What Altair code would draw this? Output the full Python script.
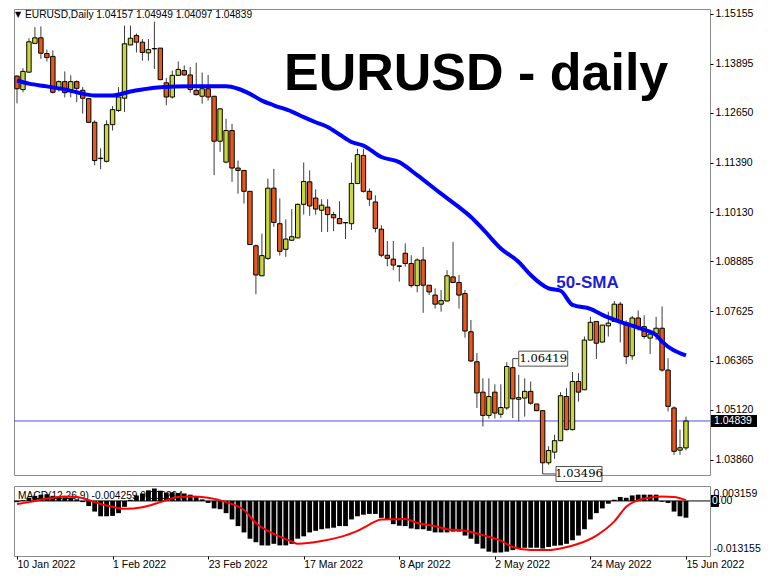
import altair as alt
import pandas as pd

# ---------------- data ----------------
date_ticks = [0, 16, 32, 48, 64, 80, 96, 112]
date_labels = ["10 Jan 2022", "1 Feb 2022", "23 Feb 2022", "17 Mar 2022",
               "8 Apr 2022", "2 May 2022", "24 May 2022", "15 Jun 2022"]
price_ticks = [1.15155, 1.13895, 1.12650, 1.11390, 1.10130, 1.08885,
               1.07625, 1.06365, 1.05120, 1.03860]

opens = [
    1.1358, 1.1324, 1.1368, 1.1441, 1.1455, 1.1415, 1.1408, 1.1327, 1.1344, 1.1324,
    1.1344, 1.1322, 1.1301, 1.1241, 1.1149, 1.1142, 1.1235, 1.1271, 1.1302, 1.1437,
    1.1461, 1.1444, 1.1417, 1.1427, 1.1429, 1.1341, 1.1305, 1.1360, 1.1372, 1.1361,
    1.1322, 1.1307, 1.1326, 1.1307, 1.1193, 1.1140, 1.1220, 1.1125, 1.1119, 1.1066,
    1.0928, 1.0852, 1.0896, 1.1074, 1.0984, 1.0919, 1.0942, 1.0948, 1.1033, 1.1090,
    1.1049, 1.1018, 1.1026, 1.1007, 1.0997, 1.0987, 1.0984, 1.1086, 1.1157, 1.1066,
    1.1039, 1.0970, 1.0904, 1.0894, 1.0877, 1.0909, 1.0883, 1.0827, 1.0892, 1.0828,
    1.0803, 1.0780, 1.0788, 1.0849, 1.0835, 1.0807, 1.0710, 1.0634, 1.0557, 1.0498,
    1.0557, 1.0501, 1.0517, 1.0619, 1.0539, 1.0542, 1.0559, 1.0527, 1.0510, 1.0378,
    1.0405, 1.0434, 1.0546, 1.0462, 1.0584, 1.0563, 1.0689, 1.0736, 1.0684, 1.0725,
    1.0736, 1.0780, 1.0733, 1.0649, 1.0745, 1.0723, 1.0694, 1.0704, 1.0719, 1.0613,
    1.0517, 1.0410, 1.04157]
highs = [
    1.1360, 1.1378, 1.1454, 1.1482, 1.1484, 1.1425, 1.1423, 1.1347, 1.1370, 1.1360,
    1.1347, 1.1330, 1.1301, 1.1246, 1.1175, 1.1246, 1.1282, 1.1330, 1.1486, 1.1486,
    1.1466, 1.1452, 1.1452, 1.1496, 1.1429, 1.1353, 1.1372, 1.1395, 1.1385, 1.1381,
    1.1392, 1.1367, 1.1361, 1.1307, 1.1277, 1.1250, 1.1237, 1.1144, 1.1119, 1.1066,
    1.0931, 1.0959, 1.1098, 1.1123, 1.1048, 1.0995, 1.1021, 1.1035, 1.1139, 1.1119,
    1.1071, 1.1046, 1.1046, 1.1014, 1.1041, 1.0987, 1.1139, 1.1174, 1.1174, 1.1073,
    1.1056, 1.0980, 1.0940, 1.0940, 1.0877, 1.0934, 1.0904, 1.0896, 1.0925, 1.0828,
    1.0820, 1.0816, 1.0866, 1.0938, 1.0854, 1.0816, 1.0740, 1.0656, 1.0592, 1.0592,
    1.0577, 1.0577, 1.0633, 1.06419, 1.0601, 1.0592, 1.0584, 1.0527, 1.0512, 1.0420,
    1.0449, 1.0557, 1.0567, 1.0608, 1.0605, 1.0698, 1.0748, 1.0736, 1.0727, 1.0761,
    1.0788, 1.0786, 1.0739, 1.0750, 1.0764, 1.0752, 1.0712, 1.0748, 1.0774, 1.0643,
    1.0521, 1.0462, 1.04949]
lows = [
    1.1289, 1.1317, 1.1367, 1.1440, 1.1402, 1.1395, 1.1314, 1.1319, 1.1304, 1.1304,
    1.1292, 1.1263, 1.1240, 1.1132, 1.1122, 1.1139, 1.1220, 1.1267, 1.1267, 1.1436,
    1.1418, 1.1397, 1.1397, 1.1376, 1.1348, 1.1284, 1.1301, 1.1358, 1.1359, 1.1316,
    1.1309, 1.1288, 1.1296, 1.1107, 1.1166, 1.1137, 1.1090, 1.1060, 1.1035, 1.0930,
    1.0805, 1.0851, 1.0892, 1.0976, 1.0903, 1.0900, 1.0940, 1.0947, 1.1007, 1.1004,
    1.1007, 1.0963, 1.0963, 1.0965, 1.0983, 1.0945, 1.0968, 1.1084, 1.1063, 1.1029,
    1.0962, 1.0899, 1.0876, 1.0866, 1.0837, 1.0875, 1.0822, 1.0810, 1.0758, 1.0803,
    1.0769, 1.0761, 1.0787, 1.0833, 1.0769, 1.0695, 1.0633, 1.0517, 1.0470, 1.0490,
    1.0490, 1.0492, 1.0512, 1.0491, 1.0483, 1.0495, 1.0525, 1.0509, 1.03496, 1.0373,
    1.0388, 1.0433, 1.0460, 1.0460, 1.0533, 1.0562, 1.0688, 1.0641, 1.0683, 1.0698,
    1.0735, 1.0683, 1.0628, 1.0639, 1.0713, 1.0692, 1.0654, 1.0689, 1.0609, 1.0508,
    1.0398, 1.0398, 1.04097]
closes = [
    1.1326, 1.1370, 1.1445, 1.1455, 1.1416, 1.1405, 1.1317, 1.1344, 1.1316, 1.1344,
    1.1327, 1.1302, 1.1241, 1.1144, 1.1150, 1.1235, 1.1273, 1.1305, 1.1440, 1.1454,
    1.1444, 1.1418, 1.1425, 1.1428, 1.1349, 1.1305, 1.1360, 1.1375, 1.1361, 1.1324,
    1.1311, 1.1326, 1.1305, 1.1193, 1.1275, 1.1220, 1.1125, 1.1119, 1.1066, 1.0931,
    1.0854, 1.0903, 1.1074, 1.0987, 1.0914, 1.0945, 1.0951, 1.1033, 1.1091, 1.1029,
    1.1021, 1.1031, 1.1007, 1.0999, 1.0984, 1.0986, 1.1086, 1.1159, 1.1066, 1.1046,
    1.0972, 1.0904, 1.0896, 1.0879, 1.0876, 1.0883, 1.0827, 1.0892, 1.0828, 1.0811,
    1.0780, 1.0789, 1.0852, 1.0835, 1.0803, 1.0712, 1.0636, 1.0555, 1.0498, 1.0546,
    1.0504, 1.0518, 1.0622, 1.0540, 1.0543, 1.0559, 1.0529, 1.0510, 1.0378, 1.0409,
    1.0434, 1.0548, 1.0462, 1.0584, 1.0557, 1.0689, 1.0734, 1.0681, 1.0727, 1.0732,
    1.0780, 1.0733, 1.0647, 1.0745, 1.0723, 1.0698, 1.0704, 1.0719, 1.0613, 1.0521,
    1.0407, 1.0416, 1.04839]

sma_idx = [0, 2, 5, 8, 10, 13, 16, 19, 21, 24, 29, 35, 37, 39, 41, 43, 46, 48, 50, 52,
           54, 56, 58, 61, 64, 67, 71, 74, 76, 78, 81, 84, 86, 89, 91, 93, 96, 98, 101,
           105, 107, 108, 112]
sma_val = [1.1347, 1.1339, 1.1332, 1.1324, 1.1317, 1.1309, 1.1309, 1.1319, 1.1324, 1.1330,
           1.1332, 1.1332, 1.1326, 1.1313, 1.1296, 1.1284, 1.1268, 1.1254, 1.1241, 1.1229,
           1.1210, 1.1191, 1.1182, 1.1153, 1.1140, 1.1107, 1.1060, 1.1026, 1.1001, 1.0970,
           1.0921, 1.0887, 1.0854, 1.0820, 1.0814, 1.0778, 1.0768, 1.0753, 1.0735,
           1.0715, 1.0702, 1.0685, 1.0650]

macd_hist = [
    -0.0003, 0.0002, 0.0008, 0.0013, 0.0016, 0.0017, 0.0013, 0.0011, 0.0009, 0.0008,
    0.0004, -0.0003, -0.0013, -0.0027, -0.0039, -0.0039, -0.0038, -0.0031, -0.0015, 0.0003,
    0.0014, 0.0019, 0.0027, 0.003159, 0.0026, 0.0021, 0.0022, 0.0020, 0.0019, 0.0016,
    0.0012, 0.0004, -0.0005, -0.0019, -0.0021, -0.0031, -0.0047, -0.0064, -0.0080, -0.0096,
    -0.0105, -0.0113, -0.0113, -0.0109, -0.0113, -0.0113, -0.0109, -0.0096, -0.0090, -0.0080,
    -0.0076, -0.0072, -0.0070, -0.0068, -0.0064, -0.0064, -0.0047, -0.0039, -0.0035, -0.0033,
    -0.0033, -0.0043, -0.0048, -0.0059, -0.0063, -0.0064, -0.0070, -0.0072, -0.0072, -0.0076,
    -0.0080, -0.0080, -0.0080, -0.0078, -0.0078, -0.0088, -0.0096, -0.0109, -0.0121, -0.0129,
    -0.013155, -0.0131, -0.0129, -0.0125, -0.0121, -0.0119, -0.0119, -0.0119, -0.0121, -0.0117,
    -0.0114, -0.0113, -0.0109, -0.0100, -0.0088, -0.0072, -0.0047, -0.0031, -0.0019, -0.0007,
    0.0003, 0.0010, 0.0008, 0.0014, 0.0016, 0.0016, 0.0016, 0.0016, -0.0002, -0.0005,
    -0.0027, -0.0039, -0.004259]

sig_idx = [0, 2, 5, 8, 10, 13, 16, 18, 21, 24, 27, 29, 32, 35, 38, 40, 43, 46, 47, 51,
           54, 57, 59, 61, 65, 67, 70, 72, 75, 78, 81, 83, 86, 89, 91, 94, 97, 100, 102,
           105, 108, 110, 112]
sig_val = [-0.0008, -0.0003, 0.0006, 0.0011, 0.0010, -0.0003, -0.0015, -0.0020, -0.0016,
           -0.0003, 0.0010, 0.0011, 0.0008, -0.0003, -0.0023, -0.0056, -0.0084, -0.0103,
           -0.0109, -0.0102, -0.0092, -0.0076, -0.0060, -0.0047, -0.0046, -0.0056, -0.0064,
           -0.0072, -0.0076, -0.0087, -0.0101, -0.0117, -0.0125, -0.0125, -0.0121, -0.0109,
           -0.0088, -0.0052, -0.0015, 0.0006, 0.0011, 0.0010, 0.0002]

last_price = 1.04839
hi_bar, hi_price = 83, 1.06419
lo_bar, lo_price = 88, 1.03496
header = "EURUSD,Daily  1.04157 1.04949 1.04097 1.04839"
macd_caption = "MACD(12,26,9) -0.004259 0.000294"

# ---------------- layout / style ----------------
W, H1, H2 = 696, 466, 70
BAR_PX = 5.973                          # pixels per bar
X_DOM = [-3 / BAR_PX, (W - 3) / BAR_PX]
Y_DOM = [1.03470, 1.15281]
M_DOM = [-0.0140, 0.0038]
FONT = "Liberation Sans"
BULL = "#c9d73c"
BEAR = "#e8581c"
PX = (Y_DOM[1] - Y_DOM[0]) / H1        # price per pixel
MPX = (M_DOM[1] - M_DOM[0]) / H2       # macd per pixel

xs = alt.Scale(domain=X_DOM, nice=False, zero=False)
ys = alt.Scale(domain=Y_DOM, nice=False, zero=False)
ms = alt.Scale(domain=M_DOM, nice=False, zero=False)

n = len(opens)
cd = pd.DataFrame({"i": list(range(n)), "o": opens, "h": highs, "l": lows, "c": closes})
cd["top"] = cd[["o", "c"]].max(axis=1)
cd["bot"] = cd[["o", "c"]].min(axis=1)
cd["up"] = cd["c"] >= cd["o"]
cd["x1"] = cd["i"] - 0.37
cd["x2"] = cd["i"] + 0.37

price_axis = alt.Axis(orient="right", values=price_ticks, format=".5f", labelFont=FONT,
                      labelFontSize=10.5, labelColor="#000000", tickSize=3,
                      tickColor="#000000", domain=False, grid=False, title=None,
                      labelPadding=2, labelOverlap=False)

wicks = alt.Chart(cd).mark_rule(color="#3c3c3c", strokeWidth=1).encode(
    x=alt.X("i:Q", scale=xs, axis=None),
    y=alt.Y("l:Q", scale=ys, axis=price_axis),
    y2="h:Q")
bodies = alt.Chart(cd).mark_rect(stroke="#000000", strokeWidth=1).encode(
    x=alt.X("x1:Q", scale=xs), x2="x2:Q",
    y=alt.Y("bot:Q", scale=ys), y2="top:Q",
    fill=alt.condition("datum.up", alt.value(BULL), alt.value(BEAR)))

sma = alt.Chart(pd.DataFrame({"i": sma_idx, "v": sma_val})).mark_line(
    color="#0000ff", strokeWidth=4, interpolate="monotone").encode(
    x=alt.X("i:Q", scale=xs), y=alt.Y("v:Q", scale=ys))

pline = alt.Chart(pd.DataFrame({"p": [last_price]})).mark_rule(
    color="#4a4aff", strokeWidth=1).encode(y=alt.Y("p:Q", scale=ys))

# last price box on the axis
pbox_df = pd.DataFrame({"p": [last_price], "p1": [last_price + 6 * PX], "p2": [last_price - 6 * PX],
                        "t": [f"{last_price:.5f}"]})
pbox = alt.Chart(pbox_df).mark_rect(color="#000000").encode(
    x=alt.value(W + 1), x2=alt.value(W + 47), y=alt.Y("p1:Q", scale=ys), y2="p2:Q")
ptext = alt.Chart(pbox_df).mark_text(align="left", baseline="middle", font=FONT,
                                     fontSize=10.5, color="#ffffff").encode(
    x=alt.value(W + 4), y=alt.Y("p:Q", scale=ys), text="t:N")

# high / low annotation boxes
ann = pd.DataFrame({
    "bar": [hi_bar, lo_bar],
    "p": [hi_price, lo_price],
    "bx1": [hi_bar + 1.0, lo_bar + 2.24],
    "bx2": [hi_bar + 9.2, lo_bar + 9.94],
    "t": [f"{hi_price:.5f}", f"{lo_price:.5f}"],
})
ann["bp1"] = ann["p"] + 7.5 * PX
ann["bp2"] = ann["p"] - 7.5 * PX
ann["cx"] = (ann["bx1"] + ann["bx2"]) / 2
ann_line = alt.Chart(ann).mark_rule(color="#404040", strokeWidth=1).encode(
    x=alt.X("bar:Q", scale=xs), x2="bx1:Q", y=alt.Y("p:Q", scale=ys))
ann_box = alt.Chart(ann).mark_rect(fill="#ffffff", stroke="#505050", strokeWidth=1).encode(
    x=alt.X("bx1:Q", scale=xs), x2="bx2:Q", y=alt.Y("bp1:Q", scale=ys), y2="bp2:Q")
ann_txt = alt.Chart(ann).mark_text(font="DejaVu Serif", fontSize=11.5, color="#000000",
                                   baseline="middle").encode(
    x=alt.X("cx:Q", scale=xs), y=alt.Y("p:Q", scale=ys), text="t:N")

labels = pd.DataFrame({"i": [44.7, 90.3], "p": [1.13228, 1.08336],
                       "t": ["EURUSD - daily", "50-SMA"]})
title_txt = alt.Chart(labels.iloc[[0]]).mark_text(
    align="left", baseline="alphabetic", font=FONT, fontSize=52, fontWeight="bold",
    color="#000000").encode(x=alt.X("i:Q", scale=xs), y=alt.Y("p:Q", scale=ys), text="t:N")
sma_txt = alt.Chart(labels.iloc[[1]]).mark_text(
    align="left", baseline="middle", font=FONT, fontSize=17, fontWeight="bold",
    color="#1e1ed2").encode(x=alt.X("i:Q", scale=xs), y=alt.Y("p:Q", scale=ys), text="t:N")

hdr_tri = alt.Chart(pd.DataFrame({"t": ["\u25bc"]})).mark_text(
    align="left", baseline="middle", font="DejaVu Sans", fontSize=8, color="#000000").encode(
    x=alt.value(1), y=alt.value(6), text="t:N")
hdr = alt.Chart(pd.DataFrame({"t": [header]})).mark_text(
    align="left", baseline="middle", font=FONT, fontSize=10.2, color="#000000").encode(
    x=alt.value(11), y=alt.value(6), text="t:N")

main = alt.layer(pline, wicks, bodies, sma, ann_line, ann_box, ann_txt, title_txt, sma_txt,
                 pbox, ptext, hdr_tri, hdr).properties(width=W, height=H1)

# ---------------- MACD panel ----------------
md = pd.DataFrame({"i": list(range(n)), "v": macd_hist})
md["x1"] = md["i"] - 0.4
md["x2"] = md["i"] + 0.4
md["z"] = 0.0

macd_axis = alt.Axis(orient="right", values=[0.00184, -0.01204],
                     labelExpr="datum.value > 0 ? '0.003159' : '-0.013155'",
                     labelFont=FONT, labelFontSize=10.5, labelColor="#000000",
                     ticks=False, domain=False, grid=False, title=None, labelPadding=3,
                     labelOverlap=False)
date_expr = "[" + ",".join(f"'{d}'" for d in date_labels) + "][round(datum.value/16)]"
date_axis = alt.Axis(values=date_ticks, labelExpr=date_expr, labelAlign="left",
                     labelFlush=False, labelOverlap=False, tickSize=3, tickColor="#000000",
                     domain=False, grid=False, title=None, labelPadding=0, labelFont=FONT,
                     labelFontSize=10.5, labelColor="#000000")

caption = alt.Chart(pd.DataFrame({"t": [macd_caption]})).mark_text(
    align="left", baseline="middle", font=FONT, fontSize=10.2, color="#000000").encode(
    x=alt.value(4), y=alt.value(10), text="t:N")
hist = alt.Chart(md).mark_rect(color="#000000").encode(
    x=alt.X("x1:Q", scale=xs, axis=date_axis), x2="x2:Q",
    y=alt.Y("v:Q", scale=ms, axis=macd_axis), y2="z:Q")
zero = alt.Chart(pd.DataFrame({"z": [0.0]})).mark_rule(color="#000000", strokeWidth=1).encode(
    y=alt.Y("z:Q", scale=ms))
signal = alt.Chart(pd.DataFrame({"i": sig_idx, "v": sig_val})).mark_line(
    color="#ff0000", strokeWidth=2, interpolate="monotone").encode(
    x=alt.X("i:Q", scale=xs), y=alt.Y("v:Q", scale=ms))
zbox_df = pd.DataFrame({"a": [6 * MPX], "b": [-6 * MPX], "z": [0.0]})
zbox = alt.Chart(zbox_df).mark_rect(color="#000000").encode(
    x=alt.value(W + 1), x2=alt.value(W + 9), y=alt.Y("a:Q", scale=ms), y2="b:Q")
z0 = alt.Chart(zbox_df).mark_text(align="left", baseline="middle", font=FONT, fontSize=10.5,
                                  color="#ffffff").encode(
    x=alt.value(W + 2), y=alt.Y("z:Q", scale=ms), text=alt.value("0"))
z1 = alt.Chart(zbox_df).mark_text(align="left", baseline="middle", font=FONT, fontSize=10.5,
                                  color="#000000").encode(
    x=alt.value(W + 7.8), y=alt.Y("z:Q", scale=ms), text=alt.value(".00"))

macd_panel = alt.layer(caption, hist, zero, signal, zbox, z0, z1).properties(width=W, height=H2)

chart = alt.vconcat(main, macd_panel, spacing=2).resolve_scale(
    y="independent").properties(
    padding={"left": 0, "top": 0, "right": 0, "bottom": 0},
    background="#ffffff").configure_view(stroke="#8a8a8a", strokeWidth=1, fill="#ffffff")

chart.save("out.html", embed_options={"renderer": "svg", "actions": False})
